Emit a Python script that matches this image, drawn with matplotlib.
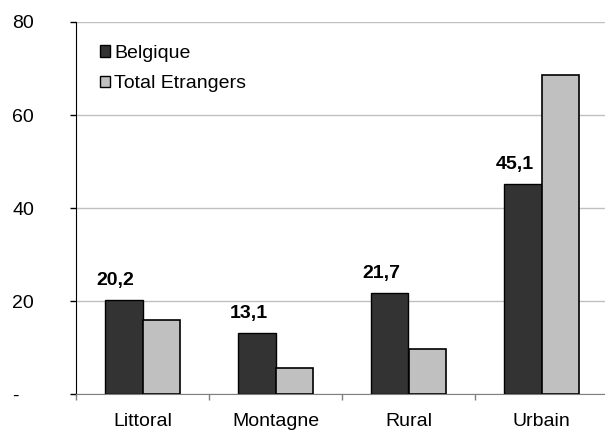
import numpy as np
import matplotlib
matplotlib.use("Agg")
import matplotlib.pyplot as plt
from matplotlib.patches import Patch

categories = ["Littoral", "Montagne", "Rural", "Urbain"]
belgique = [20.2, 13.1, 21.7, 45.1]
etrangers = [15.9, 5.5, 9.7, 68.6]
belgique_labels = ["20,2", "13,1", "21,7", "45,1"]

plt.rcParams['font.family'] = ['Liberation Sans', 'DejaVu Sans']
fs = 14

fig = plt.figure(figsize=(6.05, 4.33), dpi=100)
ax = fig.add_axes([76 / 605, 1 - 394 / 433, 532 / 605, 372 / 433])

x = np.arange(len(categories))
w = 0.285
ax.bar(x - w / 2, belgique, w, color='#333333', edgecolor='black', linewidth=1, zorder=3)
ax.bar(x + w / 2, etrangers, w, color='#c0c0c0', edgecolor='black', linewidth=1.2, zorder=3)

for xi, v, lab in zip(x, belgique, belgique_labels):
    ax.text(xi - w / 2 - 0.06, v + 2.4, lab, ha='center', va='bottom',
            fontsize=fs, fontweight='bold')

ax.set_xlim(-0.5, 3.5)
ax.set_ylim(0, 80)
ax.set_yticks([0, 20, 40, 60, 80])
ax.set_yticklabels(["-", "20", "40", "60", "80"], fontsize=fs)
for lab in ax.get_yticklabels():
    lab.set_horizontalalignment('left')
ax.tick_params(axis='y', length=4, width=1, pad=42)

ax.set_xticks(np.arange(-0.5, 4, 1))
ax.set_xticklabels([])
ax.set_xticks(x, minor=True)
ax.set_xticklabels(categories, minor=True, fontsize=fs)
ax.tick_params(axis='x', which='major', length=4, width=1, color='#808080')
ax.tick_params(axis='x', which='minor', length=0, pad=14)

ax.yaxis.grid(True, color='#c0c0c0', linewidth=1, zorder=0)
ax.set_axisbelow(True)
for s in ['top', 'right']:
    ax.spines[s].set_visible(False)
ax.spines['bottom'].set_color('#808080')
ax.spines['left'].set_color('black')

handles = [Patch(facecolor='#333333', edgecolor='black', label='Belgique'),
           Patch(facecolor='#c0c0c0', edgecolor='black', label='Total Etrangers')]
ax.legend(handles=handles, loc='upper left', bbox_to_anchor=(0.026, 0.965),
          frameon=False, fontsize=fs, handlelength=0.55, handleheight=0.55,
          handletextpad=0.2, labelspacing=0.7, borderpad=0)

fig.savefig("out.png", dpi=100)
